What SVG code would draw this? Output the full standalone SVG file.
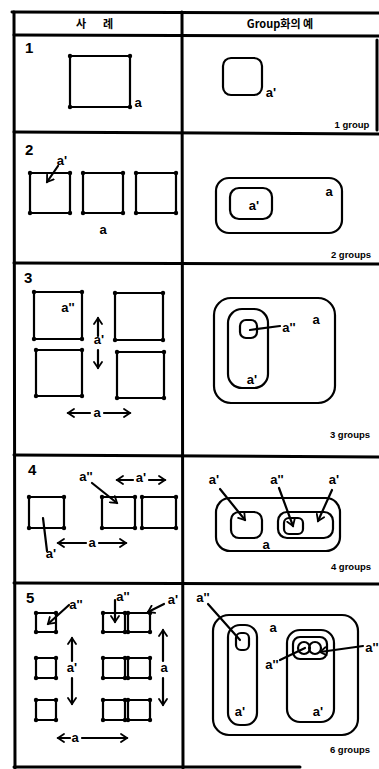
<svg xmlns="http://www.w3.org/2000/svg" width="379" height="769" viewBox="0 0 379 769">
<defs>
<marker id="dot" markerWidth="6" markerHeight="6" refX="3" refY="3" markerUnits="userSpaceOnUse"><circle cx="3" cy="3" r="2.2" fill="#000"/></marker>
<marker id="ah" markerWidth="10" markerHeight="10" refX="7" refY="5" orient="auto-start-reverse" markerUnits="userSpaceOnUse"><path d="M1,1 L7,5 L1,9" fill="none" stroke="#000" stroke-width="1.8" stroke-linecap="round"/></marker>
</defs>
<style>
.fr{stroke:#000;stroke-width:3;fill:none;stroke-linecap:round}
.ln{stroke:#000;stroke-width:2.2;fill:none;stroke-linecap:round;stroke-linejoin:round}
.sq{stroke:#000;stroke-width:2.2;fill:none;marker-start:url(#dot);marker-mid:url(#dot)}
.ar{marker-end:url(#ah)}
.ar2{marker-start:url(#ah);marker-end:url(#ah)}
.h{font-family:"Noto Sans CJK KR","Liberation Sans",sans-serif;font-size:11px;font-weight:bold;fill:#000;text-anchor:middle}
.t{font-family:"Liberation Sans",sans-serif;font-size:13px;font-weight:bold;fill:#000;text-anchor:middle}
.n{font-family:"Liberation Sans",sans-serif;font-size:15px;font-weight:bold;fill:#000}
.g{font-family:"Liberation Sans",sans-serif;font-size:9.5px;font-weight:bold;fill:#000;text-anchor:middle}
</style>
<rect width="379" height="769" fill="#fff"/>
<g id="frame">
<path class="fr" d="M12,12 L379,13"/>
<path class="fr" d="M14,12 L15,768"/>
<path class="fr" d="M182,12 L183,768"/>
<path class="fr" d="M377,40 L377,130"/>
<path class="fr" d="M14,35 L379,36"/>
<path class="fr" d="M14,132 L379,134"/>
<path class="fr" d="M14,263 L379,264"/>
<path class="fr" d="M14,455 L379,457"/>
<path class="fr" d="M14,583 L379,584"/>
<path class="fr" d="M14,767 L300,767"/>
<text class="h" x="81" y="28">사</text>
<text class="h" x="108" y="28">례</text>
<text class="h" x="280" y="28">Group화의 예</text>
</g>
<g id="row1">
<text class="n" x="25" y="53">1</text>
<path class="sq" d="M70,56 H130 V107 H70 Z"/>
<text class="t" x="138" y="107">a</text>
<rect class="ln" x="223" y="58" width="39" height="37" rx="8"/>
<text class="t" x="271" y="97">a'</text>
<text class="g" x="352" y="128">1 group</text>
</g>
<g id="row2">
<text class="n" x="25" y="155">2</text>
<path class="sq" d="M30,173 H70 V213 H30 Z"/>
<path class="sq" d="M83,173 H123 V213 H83 Z"/>
<path class="sq" d="M136,173 H176 V213 H136 Z"/>
<text class="t" x="62" y="165">a'</text>
<text class="t" x="103" y="234">a</text>
<rect class="ln" x="216" y="178" width="126" height="55" rx="13"/>
<rect class="ln" x="230" y="188" width="42" height="31" rx="9"/>
<text class="t" x="254" y="210">a'</text>
<text class="t" x="329" y="196">a</text>
<text class="g" x="351" y="258">2 groups</text>
</g>
<g id="row3">
<text class="n" x="24" y="283">3</text>
<path class="sq" d="M34,292 H82 V339 H34 Z"/>
<path class="sq" d="M115,293 H163 V340 H115 Z"/>
<path class="sq" d="M36,350 H82 V396 H36 Z"/>
<path class="sq" d="M117,352 H164 V398 H117 Z"/>
<text class="t" x="68" y="312">a''</text>
<text class="t" x="99" y="344">a'</text>
<text class="t" x="97" y="417">a</text>
<rect class="ln" x="214" y="298" width="121" height="105" rx="17"/>
<rect class="ln" x="228" y="309" width="40" height="79" rx="14"/>
<rect class="ln" x="240" y="320" width="17" height="18" rx="6"/>
<text class="t" x="289" y="332">a''</text>
<text class="t" x="316" y="324">a</text>
<text class="t" x="252" y="384">a'</text>
<text class="g" x="350" y="438">3 groups</text>
</g>
<g id="row4">
<text class="n" x="28" y="475">4</text>
<path class="sq" d="M29,497 H64 V528 H29 Z"/>
<path class="sq" d="M102,497 H135 V528 H102 Z"/>
<path class="sq" d="M142,497 H176 V528 H142 Z"/>
<text class="t" x="86" y="481">a''</text>
<text class="t" x="141" y="482">a'</text>
<text class="t" x="92" y="547">a</text>
<text class="t" x="51" y="558">a'</text>
<rect class="ln" x="216" y="498" width="124" height="53" rx="14"/>
<rect class="ln" x="231" y="512" width="31" height="26" rx="8"/>
<rect class="ln" x="278" y="512" width="55" height="26" rx="9"/>
<rect class="ln" x="284" y="518" width="19" height="16" rx="5"/>
<text class="t" x="214" y="484">a'</text>
<text class="t" x="277" y="484">a''</text>
<text class="t" x="334" y="484">a'</text>
<text class="t" x="266" y="549">a</text>
<text class="g" x="351" y="570">4 groups</text>
</g>
<g id="row5">
<text class="n" x="26" y="603">5</text>
<path class="sq" d="M36,613 H56 V632 H36 Z"/>
<path class="sq" d="M36,658 H56 V678 H36 Z"/>
<path class="sq" d="M36,700 H56 V720 H36 Z"/>
<path class="sq" d="M103,613 H125 V632 H103 Z"/>
<path class="sq" d="M128,613 H150 V632 H128 Z"/>
<path class="sq" d="M103,658 H125 V678 H103 Z"/>
<path class="sq" d="M128,658 H150 V678 H128 Z"/>
<path class="sq" d="M103,700 H125 V720 H103 Z"/>
<path class="sq" d="M128,700 H150 V720 H128 Z"/>
<text class="t" x="76" y="609">a''</text>
<text class="t" x="123" y="601">a''</text>
<text class="t" x="173" y="604">a'</text>
<text class="t" x="72" y="672">a'</text>
<text class="t" x="164" y="672">a</text>
<text class="t" x="75" y="742">a</text>
<rect class="ln" x="213" y="615" width="145" height="120" rx="16"/>
<rect class="ln" x="228" y="625" width="29" height="100" rx="12"/>
<rect class="ln" x="236" y="633" width="13" height="17" rx="5"/>
<rect class="ln" x="287" y="630" width="47" height="92" rx="13"/>
<rect class="ln" x="293" y="637" width="34" height="22" rx="7"/>
<circle class="ln" cx="304" cy="648" r="6"/>
<circle class="ln" cx="315" cy="648" r="6"/>
<text class="t" x="203" y="602">a''</text>
<text class="t" x="273" y="632">a</text>
<text class="t" x="272" y="669">a''</text>
<text class="t" x="372" y="652">a''</text>
<text class="t" x="240" y="716">a'</text>
<text class="t" x="318" y="716">a'</text>
<text class="g" x="350" y="753">6 groups</text>
</g>
<g id="connectors">
<path class="ln ar" d="M58,166 L47,182"/>
<path class="ln ar2" d="M98,318 L98,336 M98,350 L98,368"/>
<path class="ln ar2" d="M68,413 L90,413 M104,413 L130,413"/>
<path class="ln" d="M250,330 L280,326"/>
<path class="ln ar" d="M92,483 L117,503"/>
<path class="ln ar2" d="M117,480 L133,480 M149,480 L165,480"/>
<path class="ln ar2" d="M58,543 L86,543 M99,543 L126,543"/>
<path class="ln" d="M47,551 L43,518"/>
<path class="ln ar" d="M220,489 L245,520"/>
<path class="ln ar" d="M279,488 L293,526"/>
<path class="ln ar" d="M332,490 L318,521"/>
<path class="ln ar" d="M69,605 L48,624"/>
<path class="ln ar" d="M115,600 L115,622"/>
<path class="ln ar" d="M164,604 L148,612"/>
<path class="ln ar2" d="M72,638 L72,661 M72,678 L72,704"/>
<path class="ln ar2" d="M163,630 L163,661 M163,678 L163,705"/>
<path class="ln ar2" d="M58,738 L70,738 M82,738 L127,738"/>
<path class="ln" d="M208,604 L240,640"/>
<path class="ln" d="M280,660 L305,648"/>
<path class="ln ar" d="M363,646 L320,652"/>
</g>
</svg>
